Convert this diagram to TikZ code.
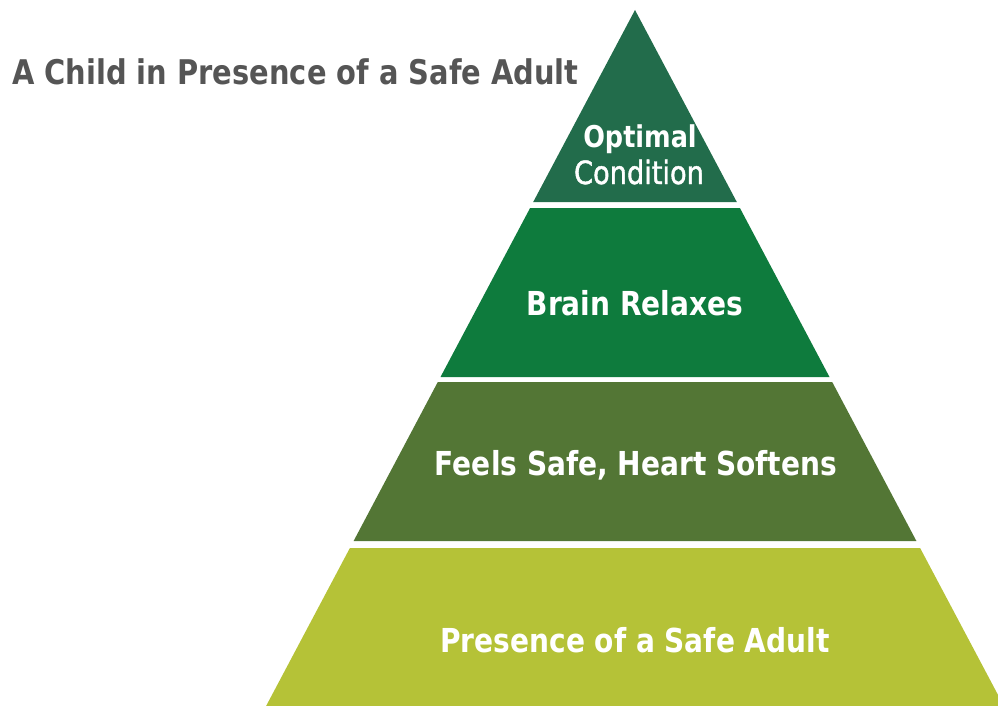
\documentclass[tikz,border=0pt]{standalone}
\usepackage{fontspec}
\setmainfont{DejaVu Sans}[FakeStretch=0.85]
\newfontfamily\semifont{DejaVu Sans}[FakeStretch=0.85, FakeBold=1.3]
\usepackage{tikz}
\usetikzlibrary{positioning}
\definecolor{topgreen}{RGB}{34,108,75}
\definecolor{braingreen}{RGB}{14,123,61}
\definecolor{heartgreen}{RGB}{83,118,53}
\definecolor{adultgreen}{RGB}{181,194,55}
\definecolor{titlegrey}{RGB}{85,85,85}
\tikzset{
	layertext/.style={text=white, font=\bfseries\fontsize{33}{36}\selectfont, inner sep=0pt},
}
\begin{document}
\begin{tikzpicture}[x=1pt, y=-1pt]
		\useasboundingbox (0,0) rectangle (998,706);
		\clip (0,0) rectangle (998,706);
		% pyramid layers, top to bottom
		\fill [topgreen] (635,10) -- (736.8,202) -- (533.2,202) -- cycle;
		\fill [braingreen] (530.1,208) -- (739.9,208) -- (829.5,377) -- (440.5,377) -- cycle;
		\fill [heartgreen] (437.8,382) -- (832.2,382) -- (916.4,541) -- (353.6,541) -- cycle;
		\fill [adultgreen] (349.9,548) -- (920.1,548) -- (1003.9,706) -- (266.1,706) -- cycle;
		% labels
		\node [text=white, inner sep=0pt, anchor=base, font=\bfseries\fontsize{30}{34}\selectfont] (optimal) at (640,147) {Optimal};
		\node [text=white, inner sep=0pt, anchor=base, font=\semifont\fontsize{32}{34}\selectfont] (condition) at (639,184) {Condition};
		\node [layertext] (brain) at (635,303) {Brain Relaxes};
		\node [layertext] (heart) at (636,465) {Feels Safe, Heart Softens};
		\node [layertext] (adult) at (635,640) {Presence of a Safe Adult};
		\node [text=titlegrey, font=\bfseries\fontsize{34}{38}\selectfont, inner sep=0pt, anchor=base west] (title) at (12,85) {A Child in Presence of a Safe Adult};
		\end{tikzpicture}
\end{document}
